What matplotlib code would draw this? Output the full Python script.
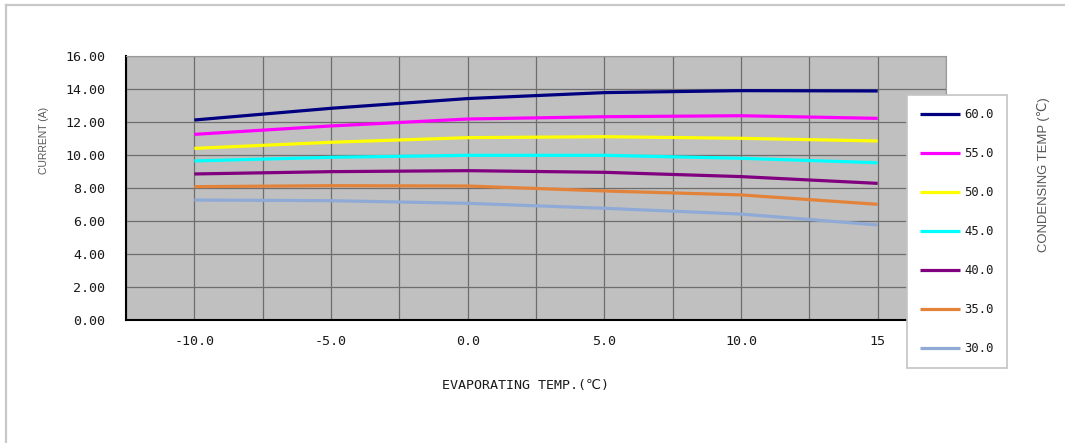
import matplotlib
matplotlib.use('Agg')
import matplotlib.pyplot as plt
from matplotlib.lines import Line2D
from matplotlib.ticker import MultipleLocator

# evaporating temperature (deg C) and current (A) for each condensing temperature
EVAP_TEMP = [-10, -5, 0, 5, 10, 15]
COND_TEMPS = ["60.0", "55.0", "50.0", "45.0", "40.0", "35.0", "30.0"]
CURRENT_60 = [12.12, 12.83, 13.42, 13.78, 13.90, 13.88]
CURRENT_55 = [11.25, 11.76, 12.18, 12.32, 12.38, 12.22]
CURRENT_50 = [10.40, 10.77, 11.05, 11.11, 11.01, 10.85]
CURRENT_45 = [9.64, 9.86, 9.98, 9.98, 9.80, 9.53]
CURRENT_40 = [8.85, 8.99, 9.05, 8.95, 8.69, 8.28]
CURRENT_35 = [8.08, 8.14, 8.12, 7.82, 7.58, 7.01]
CURRENT_30 = [7.27, 7.23, 7.07, 6.77, 6.42, 5.76]
X_TICK_LABELS = ["-10.0", "-5.0", "0.0", "5.0", "10.0", "15"]
Y_TICKS = [0, 2, 4, 6, 8, 10, 12, 14, 16]

SERIES = [CURRENT_60, CURRENT_55, CURRENT_50, CURRENT_45,
          CURRENT_40, CURRENT_35, CURRENT_30]
COLORS = ["#000080", "#FF00FF", "#FFFF00", "#00FFFF",
          "#800080", "#E3833A", "#8FAAD6"]

MONO = ["DejaVu Sans Mono", "DejaVu Sans", "Noto Sans CJK SC"]
SIDE = ["Liberation Sans", "DejaVu Sans", "Noto Sans CJK SC"]
TEXT_COLOR = "#1a1a1a"

fig = plt.figure(figsize=(10.65, 4.43), dpi=100)
fig.patch.set_facecolor("white")

# thin outer frame on the left and top
fig.add_artist(Line2D([0.0058, 0.0058], [0.0, 0.989], color="#c8c8c8", lw=1.6))
fig.add_artist(Line2D([0.0058, 1.0], [0.989, 0.989], color="#c8c8c8", lw=1.6))

ax = fig.add_axes([0.1183, 0.2777, 0.7700, 0.5959])
ax.set_facecolor("#C0C0C0")

for vals, col, name in zip(SERIES, COLORS, COND_TEMPS):
    ax.plot(EVAP_TEMP, vals, color=col, lw=2.3, label=name,
            solid_capstyle="butt", zorder=3)

ax.set_xlim(-12.5, 17.5)
ax.set_ylim(0, 16)
ax.set_xticks(EVAP_TEMP)
ax.set_xticklabels(X_TICK_LABELS)
ax.xaxis.set_minor_locator(MultipleLocator(2.5))
ax.set_yticks(Y_TICKS)
ax.set_yticklabels([f"{v:.2f}" for v in Y_TICKS])

ax.grid(True, which="both", axis="x", color="#6e6e6e", lw=0.9)
ax.grid(True, which="major", axis="y", color="#6e6e6e", lw=0.9)
ax.set_axisbelow(True)

ax.tick_params(which="both", length=0)
ax.tick_params(axis="y", pad=15, labelsize=9.6, labelcolor=TEXT_COLOR)
ax.tick_params(axis="x", pad=11, labelsize=9.6, labelcolor=TEXT_COLOR)
for lbl in ax.get_xticklabels() + ax.get_yticklabels():
    lbl.set_family(MONO)

for side in ("left", "bottom"):
    ax.spines[side].set_color("black")
    ax.spines[side].set_linewidth(1.5)
for side in ("top", "right"):
    ax.spines[side].set_color("#9a9a9a")
    ax.spines[side].set_linewidth(0.8)

fig.text(526 / 1065, 1 - 385 / 443, "EVAPORATING TEMP.(\u2103)", family=MONO,
         fontsize=9.6, color=TEXT_COLOR, ha="center", va="center")
fig.text(44 / 1065, 1 - 140 / 443, "CURRENT (A)", family=SIDE,
         fontsize=7.5, color="#555555", rotation=90, ha="center", va="center")
fig.text(1044 / 1065, 1 - 175 / 443, "CONDENSING TEMP (\u2103)", family=SIDE,
         fontsize=9.4, color="#555555", rotation=90, ha="center", va="center")

leg = ax.legend(loc="upper left", bbox_to_anchor=(907 / 1065, 1 - 95 / 443),
                bbox_transform=fig.transFigure, frameon=True, fancybox=False,
                prop={"family": MONO, "size": 8.8}, handlelength=3.3,
                handletextpad=0.35, labelspacing=2.13, borderpad=1.05,
                borderaxespad=0)
leg.get_frame().set_edgecolor("#c4c4c4")
leg.get_frame().set_linewidth(1.2)
leg.get_frame().set_facecolor("white")
leg.get_frame().set_alpha(1)
for t in leg.get_texts():
    t.set_color(TEXT_COLOR)

fig.savefig("out.png", dpi=100)
